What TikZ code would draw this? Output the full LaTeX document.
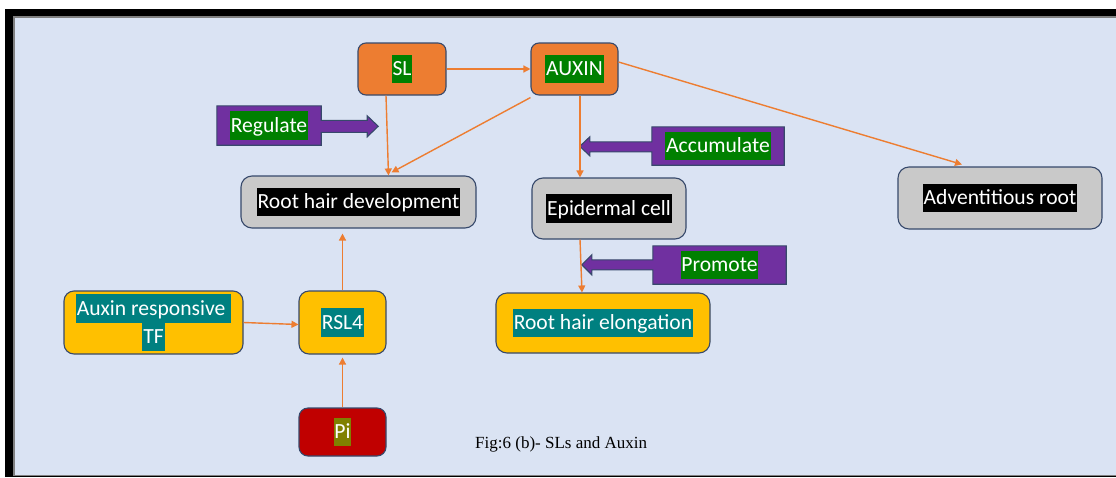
\documentclass[tikz,border=0pt]{standalone}
\usepackage{fontspec}
\setmainfont{Carlito}
\newfontfamily\capfont{Liberation Serif}
\usetikzlibrary{arrows.meta,backgrounds}

\definecolor{slide}{HTML}{DAE3F3}
\definecolor{edge}{HTML}{37496B}
\definecolor{orangefill}{HTML}{ED7D31}
\definecolor{grayfill}{HTML}{C9C9C9}
\definecolor{yellowfill}{HTML}{FFC000}
\definecolor{redfill}{HTML}{C00000}
\definecolor{purplefill}{HTML}{7030A0}
\definecolor{hlgreen}{HTML}{008000}
\definecolor{hlteal}{HTML}{008080}
\definecolor{hlolive}{HTML}{808000}
\definecolor{arrowline}{HTML}{ED7D31}

% highlighted label: coloured band behind the text
\newcommand\hlt[2]{{\setlength{\fboxsep}{0pt}\colorbox{#1}{\hspace{0.8pt}\rule[-0.33em]{0pt}{1.3em}#2\hspace{0.8pt}}}}

\begin{document}
\begin{tikzpicture}[x=1pt,y=-1pt,
  box/.style={draw=edge, line width=1.1pt, text=white, inner sep=0pt, align=center,
    font=\fontsize{21.6}{28.2}\selectfont},
  small/.style={box, rounded corners=8pt, minimum width=88pt, minimum height=52pt},
  wide/.style={box, rounded corners=11pt},
  label/.style={text=white, inner sep=0pt, font=\fontsize{21.6}{28.2}\selectfont},
  callout/.style={fill=purplefill, draw=edge, line width=1.1pt},
  conn/.style={draw=arrowline, line width=1.4pt, -{Triangle[length=7pt,width=7pt]}}]
\useasboundingbox (0,0) rectangle (1116,477);

% slide frame
\begin{pgfonlayer}{background}
  \fill[black] (5,9) rectangle (1116,477);
  \fill[gray] (13,16) rectangle (1116,475.5);
  \fill[slide] (15,18) rectangle (1116,474.5);
\end{pgfonlayer}

% boxes
\node[small, fill=orangefill] (sl) at (402,69) {\hlt{hlgreen}{SL}};
\node[small, fill=orangefill, minimum width=87pt] (auxin) at (574.5,69) {\hlt{hlgreen}{AUXIN}};
\node[wide, fill=grayfill, minimum width=235pt, minimum height=52pt] (rhd) at (358.5,202) {\hlt{black}{Root hair development}};
\node[wide, fill=grayfill, minimum width=154pt, minimum height=61pt] (epi) at (609,208.5) {\hlt{black}{Epidermal cell}};
\node[wide, fill=grayfill, minimum width=204pt, minimum height=62pt] (adv) at (1000,198) {\hlt{black}{Adventitious root}};
\node[wide, fill=yellowfill, minimum width=214pt, minimum height=60pt] (rhe) at (603,323) {\hlt{hlteal}{Root hair elongation}};
\node[wide, fill=yellowfill, rounded corners=10pt, minimum width=179pt, minimum height=63pt] (tf) at (153.5,322.5) {\hlt{hlteal}{Auxin responsive\ }\\[-0.2pt]\hlt{hlteal}{TF}};
\node[box, fill=yellowfill, rounded corners=10pt, minimum width=87pt, minimum height=63pt] (rsl) at (342.5,322.5) {\hlt{hlteal}{RSL4}};
\node[box, fill=redfill, rounded corners=9pt, minimum width=87pt, minimum height=48pt] (pi) at (342.5,432) {\hlt{hlolive}{Pi}};

% purple callout labels
\node[label, minimum width=104pt, minimum height=39pt] (reg) at (269,125.5) {\hlt{hlgreen}{Regulate}};
\node[label, minimum width=132pt, minimum height=38pt] (acc) at (718,146) {\hlt{hlgreen}{Accumulate}};
\node[label, minimum width=133pt, minimum height=38pt] (pro) at (719.5,265) {\hlt{hlgreen}{Promote}};
\begin{pgfonlayer}{background}
  \draw[callout] (reg.north west) -- (reg.north east) -- ++(0,14.5) -- ++(46,0) -- ++(0,-4.5)
    -- ++(11,10.5) -- ++(-11,10.5) -- ++(0,-4.5) -- ++(-46,0) |- (reg.south west) -- cycle;
  \draw[callout] (acc.north east) -- (acc.north west) -- ++(0,15) -- ++(-62,0) -- ++(0,-5)
    -- ++(-10,9.5) -- ++(10,9.5) -- ++(0,-4) -- ++(62,0) |- (acc.south east) -- cycle;
  \draw[callout] (pro.north east) -- (pro.north west) -- ++(0,14) -- ++(-61,0) -- ++(0,-5)
    -- ++(-10,10) -- ++(10,10) -- ++(0,-5) -- ++(61,0) |- (pro.south east) -- cycle;
\end{pgfonlayer}

% connectors
\draw[conn] (sl.east) -- (auxin.west);
\draw[conn] ([xshift=-16pt]sl.south) -- ([xshift=30pt]rhd.north);
\draw[conn] ([yshift=-2pt]auxin.south west) -- ([xshift=33pt,yshift=3pt]rhd.north);
\draw[conn] ([xshift=5.5pt]auxin.south) -- ([xshift=-29pt]epi.north);
\draw[conn] ([yshift=7pt]auxin.east) -- ([xshift=-38pt,yshift=2pt]adv.north);
\draw[conn] ([xshift=-29pt]epi.south) -- ([xshift=-21pt]rhe.north);
\draw[conn] (rsl.north) -- ([xshift=-16pt,yshift=-5pt]rhd.south);
\draw[conn] (tf.east) -- ([yshift=-2pt]rsl.west);
\draw[conn] (pi.north) -- ([yshift=-3pt]rsl.south);

% caption
\node[anchor=base west, inner sep=0pt, font=\capfont\fontsize{17}{20}\selectfont] (cap) at (475,448) {Fig:6 (b)- SLs and Auxin};
\end{tikzpicture}
\end{document}
